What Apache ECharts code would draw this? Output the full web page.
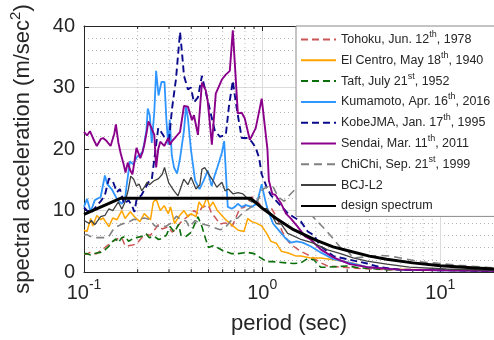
<!DOCTYPE html>
<html><head><meta charset="utf-8">
<script src="https://cdn.jsdelivr.net/npm/echarts@6/dist/echarts.min.js"></script>
<style>html,body{margin:0;padding:0;background:#fff}#c{width:494px;height:340px}</style>
</head><body><div id="c"></div>
<script>
// ---- data (period [s], spectral acceleration [m/s^2]) ----
const seriesNames = [
  'Tohoku, Jun. 12th, 1978',
  'El Centro, May 18th, 1940',
  'Taft, July 21st, 1952',
  'Kumamoto, Apr. 16th, 2016',
  'KobeJMA, Jan. 17th, 1995',
  'Sendai, Mar. 11th, 2011',
  'ChiChi, Sep. 21st, 1999',
  'BCJ-L2',
  'design spectrum'
];
const xTickValues = [0.1, 1, 10];
const yTickValues = [0, 10, 20, 30, 40];
const minorPeriods = [0.2,0.3,0.4,0.5,0.6,0.7,0.8,0.9,2,3,4,5,6,7,8,9];

const tohoku = [[0.100,2.9],[0.104,2.9],[0.108,3.2],[0.113,3.0],[0.118,3.0],[0.124,3.5],[0.131,4.0],[0.138,4.5],[0.145,5.0],[0.156,5.5],[0.163,5.6],[0.170,4.3],[0.178,4.3],[0.187,4.4],[0.197,4.6],[0.210,5.5],[0.224,6.1],[0.236,6.0],[0.248,6.8],[0.261,7.7],[0.275,7.0],[0.297,7.4],[0.312,6.5],[0.328,7.0],[0.346,8.0],[0.380,9.0],[0.414,10.0],[0.436,9.5],[0.459,10.5],[0.500,10.9],[0.520,9.5],[0.541,9.0],[0.580,7.8],[0.620,8.0],[0.680,7.5],[0.750,10.4],[0.790,10.5],[0.874,12.2],[0.920,12.0],[0.970,11.0],[1.02,10.0],[1.12,10.5],[1.20,9.0],[1.30,6.5],[1.40,5.0],[1.50,4.2],[1.60,3.6],[1.75,3.0],[1.90,2.5],[2.13,1.5],[2.33,1.0],[2.75,0.8],[3.5,0.6],[5,0.4],[10,0.3],[20,0.2]];
const elCentro = [[0.100,6.8],[0.104,6.6],[0.109,8.7],[0.112,7.5],[0.118,9.2],[0.124,8.5],[0.128,8.8],[0.138,7.4],[0.145,8.8],[0.153,8.5],[0.163,10.0],[0.170,8.7],[0.182,9.8],[0.192,9.0],[0.206,8.2],[0.218,9.5],[0.236,8.5],[0.245,11.4],[0.254,11.9],[0.268,10.0],[0.282,10.8],[0.297,9.5],[0.306,10.6],[0.322,7.9],[0.346,9.3],[0.364,10.0],[0.383,9.0],[0.398,9.5],[0.425,9.0],[0.442,11.4],[0.465,10.5],[0.490,12.2],[0.508,10.6],[0.530,11.4],[0.560,10.0],[0.594,9.2],[0.630,8.4],[0.680,7.6],[0.735,6.8],[0.790,6.6],[0.830,8.7],[0.874,8.2],[0.920,8.0],[0.994,7.5],[1.06,6.3],[1.12,5.0],[1.20,4.7],[1.28,3.4],[1.40,3.1],[1.55,2.6],[1.65,2.6],[1.87,2.3],[2.13,2.3],[2.51,2.0],[3.2,1.5],[3.9,0.8],[5,0.5],[10,0.3],[20,0.2]];
const taft = [[0.100,3.0],[0.104,3.0],[0.108,2.8],[0.113,3.0],[0.118,3.1],[0.124,3.2],[0.131,3.6],[0.138,4.2],[0.145,5.0],[0.151,5.4],[0.156,4.8],[0.163,5.6],[0.170,5.8],[0.178,5.0],[0.187,5.4],[0.197,5.6],[0.210,5.8],[0.224,6.2],[0.232,5.6],[0.248,5.8],[0.262,5.3],[0.275,5.5],[0.290,6.0],[0.304,7.4],[0.322,6.5],[0.340,7.8],[0.350,6.0],[0.374,5.8],[0.400,6.5],[0.436,9.0],[0.459,7.4],[0.480,5.5],[0.500,4.0],[0.530,4.3],[0.560,4.0],[0.600,3.5],[0.675,3.0],[0.730,3.0],[0.830,3.2],[0.900,3.0],[1.06,1.7],[1.15,1.7],[1.36,1.5],[1.50,1.4],[1.65,1.5],[1.80,2.2],[1.95,2.0],[2.13,0.8],[2.33,0.8],[3.0,1.0],[3.5,0.7],[5,0.4],[10,0.3],[20,0.2]];
const kumamoto = [[0.100,10.6],[0.104,11.9],[0.109,9.8],[0.115,11.7],[0.124,12.2],[0.131,15.7],[0.135,14.3],[0.143,13.5],[0.153,11.9],[0.163,11.1],[0.170,11.9],[0.173,13.8],[0.181,18.0],[0.189,17.5],[0.197,18.6],[0.213,19.5],[0.218,21.0],[0.224,23.0],[0.228,26.6],[0.234,25.5],[0.240,21.0],[0.248,26.0],[0.254,32.7],[0.262,28.7],[0.272,30.9],[0.283,30.9],[0.290,24.7],[0.297,20.7],[0.303,24.7],[0.311,19.0],[0.320,17.0],[0.333,16.0],[0.346,18.5],[0.364,23.0],[0.374,27.0],[0.383,25.0],[0.398,20.0],[0.420,14.9],[0.445,13.5],[0.470,14.9],[0.495,16.5],[0.520,14.0],[0.541,15.7],[0.560,17.0],[0.594,19.4],[0.612,21.3],[0.641,10.6],[0.675,10.3],[0.702,10.6],[0.730,11.1],[0.768,10.6],[0.809,10.9],[0.874,10.6],[0.932,11.1],[0.994,14.3],[1.04,11.7],[1.07,10.3],[1.15,7.9],[1.23,6.9],[1.35,5.5],[1.45,4.8],[1.56,5.0],[1.69,4.8],[1.87,4.2],[2.13,3.2],[2.51,2.1],[3.2,1.4],[3.88,0.8],[5.9,0.4],[10,0.3],[20,0.2]];
const kobe = [[0.100,10.5],[0.104,10.0],[0.108,9.5],[0.112,10.0],[0.118,10.8],[0.124,11.5],[0.131,12.5],[0.138,15.2],[0.145,14.8],[0.153,13.0],[0.159,13.5],[0.168,11.1],[0.178,11.7],[0.187,10.6],[0.192,9.8],[0.197,11.7],[0.210,12.5],[0.230,14.6],[0.240,15.0],[0.254,20.7],[0.261,23.4],[0.268,23.0],[0.282,22.0],[0.300,21.5],[0.312,26.6],[0.328,31.3],[0.346,39.0],[0.355,35.6],[0.364,31.9],[0.383,29.7],[0.398,30.0],[0.414,27.6],[0.436,28.4],[0.459,31.9],[0.490,28.4],[0.522,25.0],[0.541,23.1],[0.578,22.0],[0.625,22.3],[0.650,26.8],[0.684,31.1],[0.711,27.6],[0.740,24.5],[0.768,21.8],[0.830,21.8],[0.874,21.2],[0.920,20.2],[0.960,18.6],[0.994,15.9],[1.06,13.8],[1.12,12.5],[1.25,11.0],[1.40,9.5],[1.65,8.2],[1.80,6.6],[1.95,6.0],[2.13,4.2],[2.51,2.6],[3.88,1.4],[4.58,0.8],[5.9,0.4],[10,0.3],[20,0.2]];
const sendai = [[0.100,22.8],[0.104,22.2],[0.108,22.9],[0.113,21.6],[0.118,20.5],[0.124,21.6],[0.128,21.8],[0.134,21.3],[0.141,20.5],[0.148,22.5],[0.151,24.0],[0.156,21.0],[0.161,19.2],[0.167,17.5],[0.171,16.2],[0.176,17.8],[0.182,16.5],[0.187,15.9],[0.192,18.0],[0.197,20.2],[0.207,18.5],[0.213,19.5],[0.218,20.7],[0.224,22.5],[0.230,24.5],[0.236,23.8],[0.248,22.3],[0.254,17.0],[0.261,20.0],[0.268,21.2],[0.275,21.3],[0.282,20.5],[0.297,21.8],[0.304,20.7],[0.312,21.3],[0.328,22.0],[0.346,22.8],[0.364,27.0],[0.383,26.9],[0.404,24.7],[0.414,25.5],[0.436,22.3],[0.459,30.8],[0.471,31.0],[0.483,29.5],[0.495,27.7],[0.522,20.7],[0.549,29.0],[0.594,31.3],[0.625,32.1],[0.658,32.7],[0.684,39.3],[0.702,34.0],[0.730,25.8],[0.768,25.9],[0.798,25.0],[0.852,21.5],[0.920,23.4],[0.994,28.2],[1.07,20.0],[1.09,14.9],[1.14,12.7],[1.19,12.5],[1.28,11.1],[1.36,9.5],[1.45,8.7],[1.58,7.4],[1.74,5.8],[1.87,5.3],[2.13,3.7],[2.51,2.4],[3.1,1.3],[3.9,0.8],[5.9,0.4],[10,0.3],[20,0.2]];
const chichi = [[0.100,6.0],[0.104,6.1],[0.108,5.8],[0.113,5.8],[0.118,5.6],[0.124,5.6],[0.131,5.6],[0.138,5.8],[0.145,6.8],[0.153,7.4],[0.163,7.8],[0.172,8.0],[0.180,8.2],[0.190,8.6],[0.200,8.5],[0.218,8.8],[0.232,8.6],[0.250,7.5],[0.275,7.4],[0.290,7.5],[0.310,8.0],[0.330,9.1],[0.350,8.5],[0.375,8.3],[0.390,7.3],[0.420,8.4],[0.440,8.0],[0.480,7.7],[0.510,7.5],[0.540,7.2],[0.580,6.9],[0.610,7.0],[0.675,8.5],[0.730,8.8],[0.790,9.8],[0.850,10.4],[0.900,11.0],[0.960,12.0],[1.00,13.4],[1.06,13.8],[1.15,13.9],[1.23,12.2],[1.33,11.5],[1.42,12.5],[1.55,13.6],[1.65,12.5],[1.75,10.8],[1.87,9.4],[2.0,8.5],[2.33,6.5],[2.75,4.0],[3.0,3.5],[3.25,2.3],[3.9,2.5],[4.6,2.7],[5.2,2.6],[6.0,2.3],[7.6,1.7],[9.0,1.5],[12.7,1.1],[18,0.8],[20,0.7]];
const bcjL2 = [[0.100,8.4],[0.107,7.9],[0.110,8.4],[0.115,7.7],[0.124,9.0],[0.131,9.2],[0.138,10.3],[0.145,10.0],[0.156,11.4],[0.163,10.2],[0.170,11.4],[0.177,13.3],[0.183,15.6],[0.190,15.1],[0.197,14.0],[0.204,14.3],[0.211,13.2],[0.218,13.8],[0.226,14.6],[0.233,14.2],[0.246,14.8],[0.262,15.2],[0.275,15.9],[0.283,17.0],[0.299,14.5],[0.320,13.2],[0.337,12.4],[0.363,15.1],[0.383,14.2],[0.399,15.4],[0.425,13.5],[0.447,14.2],[0.459,16.7],[0.476,17.0],[0.510,15.6],[0.532,14.8],[0.556,13.8],[0.594,14.6],[0.619,13.2],[0.645,13.5],[0.687,12.7],[0.732,12.9],[0.780,12.7],[0.833,11.9],[0.874,11.4],[0.932,11.4],[0.994,10.3],[1.06,10.3],[1.12,9.5],[1.20,7.9],[1.28,7.8],[1.39,6.3],[1.52,5.8],[1.65,5.3],[1.94,4.7],[2.33,3.6],[2.75,3.0],[3.24,2.3],[3.88,1.8],[5.0,1.3],[6.7,0.8],[10.8,0.5],[20,0.3]];
const design = [[0.1,9.4],[0.16,12.0],[0.86,12.0],[1.0,10.4],[1.2,8.7],[1.5,6.9],[2.0,5.2],[2.5,4.1],[3.0,3.5],[4.0,2.6],[5.0,2.1],[7.0,1.5],[10,1.05],[15,0.7],[20,0.52]];

const seriesData = [tohoku, elCentro, taft, kumamoto, kobe, sendai, chichi, bcjL2, design];
const seriesColors = ['#cc5555','#ffa500','#0a6e0a','#2f95ff','#0a0a8c','#8b008b','#808080','#404040','#000000'];
const seriesDash = [[7,4],'solid',[7,4],'solid',[7,4],'solid',[8,5],'solid','solid'];
const seriesWidth = [1.5,1.5,1.6,1.8,1.9,1.9,1.6,1.3,3];

const TXT = '#262626';
const FONT = 'Liberation Sans, Arial, Helvetica, sans-serif';

function isDecade(v) {
  const l = Math.log10(v);
  return xTickValues.some(t => Math.abs(Math.log10(t) - l) < 1e-6);
}

const chart = echarts.init(document.getElementById('c'), null, {renderer:'canvas'});
const series = seriesNames.map((n, i) => ({
  name: n, type: 'line', data: seriesData[i], showSymbol: false, symbol: 'none',
  lineStyle: {color: seriesColors[i], width: seriesWidth[i], type: seriesDash[i]},
  itemStyle: {color: seriesColors[i]}, z: 3 + i, silent: true, animation: false
}));
series.unshift({
  type: 'custom', name: 'minorgrid', data: minorPeriods.map(v => [v, 0]),
  encode: {x: 0, y: 1}, z: 1, silent: true, animation: false, clip: false,
  renderItem: function (params, api) {
    const x = api.value(0);
    const p0 = api.coord([x, 0]);
    const p1 = api.coord([x, 40]);
    return {type: 'group', children: [
      {type: 'line', shape: {x1: p0[0], y1: p0[1], x2: p1[0], y2: p1[1]}, style: {stroke: '#b4b4b4', lineWidth: 1, lineDash: [1, 3]}},
      {type: 'line', shape: {x1: p0[0], y1: p0[1], x2: p0[0], y2: p0[1] - 3}, style: {stroke: TXT, lineWidth: 1}},
      {type: 'line', shape: {x1: p1[0], y1: p1[1], x2: p1[0], y2: p1[1] + 3}, style: {stroke: TXT, lineWidth: 1}}
    ]};
  }
});

chart.setOption({
  animation: false,
  textStyle: {fontFamily: FONT, color: TXT},
  grid: {left: 81, right: -1, top: 26, bottom: 64, containLabel: false},
  legend: {
    data: seriesNames, orient: 'vertical', left: 296, top: 26,
    backgroundColor: '#ffffff', borderColor: '#8a8a8a', borderWidth: 1,
    padding: [4, 40, 1, 4], itemWidth: 35, itemHeight: 10, itemGap: 1.8,
    itemStyle: {opacity: 0, borderWidth: 0},
    textStyle: {fontSize: 12.5, color: TXT, fontFamily: FONT, lineHeight: 19,
      rich: {sup: {fontSize: 9, verticalAlign: 'top', color: TXT, fontFamily: FONT}}},
    formatter: function (n) { return n.replace(/(\d+)(th|st)/, '$1{sup|$2}'); },
    selectedMode: false, z: 20
  },
  xAxis: [{
    type: 'log', logBase: 10, min: 0.1, max: 20, position: 'bottom',
    name: 'period (sec)', nameLocation: 'middle', nameGap: 31,
    nameTextStyle: {fontSize: 22, color: TXT, fontFamily: FONT},
    axisLine: {show: true, lineStyle: {color: TXT, width: 1}},
    axisTick: {show: true, inside: true, length: 5, lineStyle: {color: TXT}},
    axisLabel: {margin: 6, color: TXT, fontSize: 20, fontFamily: FONT, lineHeight: 30,
      showMaxLabel: false,
      formatter: function (v) { if (!isDecade(v)) return ''; const e = Math.round(Math.log10(v)); return '10{sup|' + e + '}'; },
      rich: {sup: {fontSize: 14, verticalAlign: 'top', color: TXT, fontFamily: FONT}}},
    splitLine: {show: true, lineStyle: {color: '#dcdcdc', width: 1}},
    minorTick: {show: false}, minorSplitLine: {show: false}
  }, {
    type: 'log', logBase: 10, min: 0.1, max: 20, position: 'top',
    axisLine: {show: true, lineStyle: {color: TXT, width: 1}},
    axisTick: {show: true, inside: true, length: 5, lineStyle: {color: TXT}},
    axisLabel: {show: false}, splitLine: {show: false}
  }],
  yAxis: {
    type: 'value', min: yTickValues[0], max: yTickValues[yTickValues.length - 1], interval: 10,
    name: 'spectral acceleration (m/sec{sup|2})', nameLocation: 'middle', nameGap: 46,
    nameTextStyle: {fontSize: 22, color: TXT, fontFamily: FONT, lineHeight: 30,
      rich: {sup: {fontSize: 15, verticalAlign: 'top', color: TXT, fontFamily: FONT}}},
    axisLine: {show: true, lineStyle: {color: TXT, width: 1}},
    axisTick: {show: true, inside: true, length: 5, lineStyle: {color: TXT}},
    axisLabel: {margin: 9, color: TXT, fontSize: 20, fontFamily: FONT},
    splitLine: {show: true, lineStyle: {color: '#dcdcdc', width: 1}},
    minorTick: {show: false, splitNumber: 5},
    minorSplitLine: {show: true, lineStyle: {color: '#b4b4b4', width: 1, type: [1, 3]}}
  },
  series: series
});
</script></body></html>
